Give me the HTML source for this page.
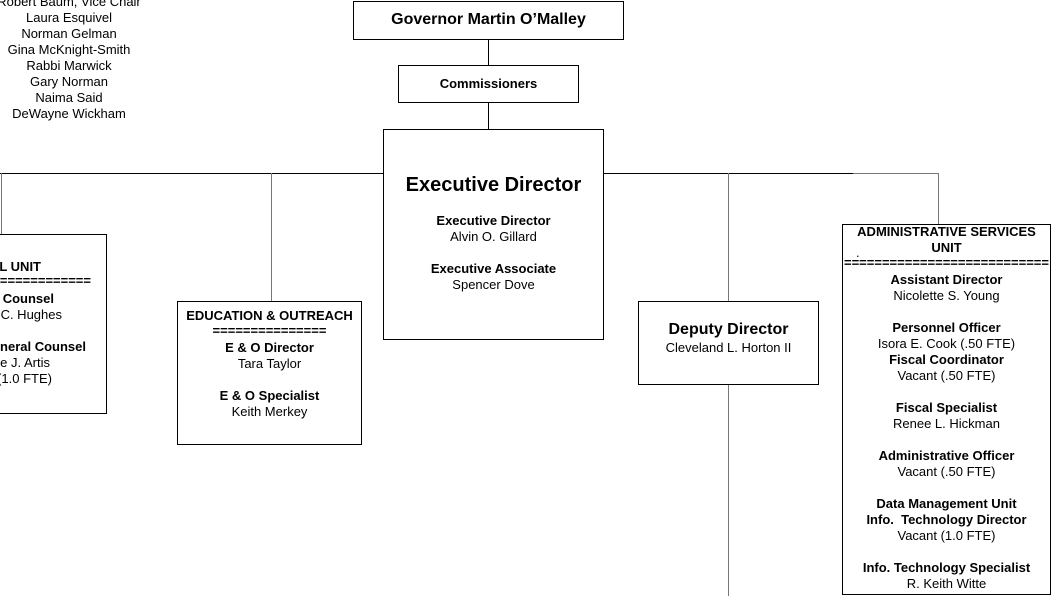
<!DOCTYPE html>
<html><head><meta charset="utf-8"><style>
body{margin:0;width:1053px;height:596px;position:relative;overflow:hidden;background:#fff;font-family:"Liberation Sans",Arial,sans-serif;color:#000}
.b{position:absolute;border:1px solid #000;box-sizing:border-box;background:#fff}
.l{position:absolute;background:#000}
.g{position:absolute;background:#777}
.t{position:absolute;text-align:center;font-size:13px;line-height:16px;white-space:nowrap}
.r{position:absolute;text-align:right;font-size:13px;line-height:16px;white-space:nowrap}
.bd{font-weight:bold}
</style></head><body>
<div class="l" style="left:0;top:173px;width:853px;height:1px"></div>
<div class="g" style="left:853px;top:173px;width:86px;height:1px"></div>
<div class="g" style="left:938px;top:173px;width:1px;height:52px"></div>
<div class="l" style="left:488px;top:38px;width:1px;height:92px"></div>
<div class="g" style="left:1px;top:173px;width:1px;height:62px"></div>
<div class="g" style="left:271px;top:173px;width:1px;height:129px"></div>
<div class="g" style="left:728px;top:173px;width:1px;height:423px"></div>

<div class="t" style="left:-31px;width:200px;top:-6px">Robert Baum, Vice Chair</div>
<div class="t" style="left:-31px;width:200px;top:10px">Laura Esquivel</div>
<div class="t" style="left:-31px;width:200px;top:26px">Norman Gelman</div>
<div class="t" style="left:-31px;width:200px;top:42px">Gina McKnight-Smith</div>
<div class="t" style="left:-31px;width:200px;top:58px">Rabbi Marwick</div>
<div class="t" style="left:-31px;width:200px;top:74px">Gary Norman</div>
<div class="t" style="left:-31px;width:200px;top:90px">Naima Said</div>
<div class="t" style="left:-31px;width:200px;top:106px">DeWayne Wickham</div>

<div class="b" style="left:353px;top:1px;width:271px;height:39px"></div>
<div class="t bd" style="left:353px;width:271px;top:11px;font-size:16px;line-height:18px">Governor Martin O’Malley</div>
<div class="b" style="left:398px;top:65px;width:181px;height:38px"></div>
<div class="t bd" style="left:398px;width:181px;top:76px">Commissioners</div>
<div class="b" style="left:383px;top:129px;width:221px;height:211px"></div>
<div class="t bd" style="left:383px;width:221px;top:173px;font-size:20px;line-height:24px">Executive Director</div>
<div class="t bd" style="left:383px;width:221px;top:213px">Executive Director</div>
<div class="t" style="left:383px;width:221px;top:229px">Alvin O. Gillard</div>
<div class="t bd" style="left:383px;width:221px;top:261px">Executive Associate</div>
<div class="t" style="left:383px;width:221px;top:277px">Spencer Dove</div>

<div class="b" style="left:-60px;top:234px;width:167px;height:180px"></div>
<div class="r bd" style="left:-200px;width:241px;top:259px">LEGAL UNIT</div>
<div class="r bd" style="left:-200px;width:291px;top:276px;line-height:10px">====================</div>
<div class="r bd" style="left:-200px;width:254px;top:291px">General Counsel</div>
<div class="r" style="left:-200px;width:262px;top:307px">Kathleen C. Hughes</div>
<div class="r bd" style="left:-200px;width:286px;top:339px">Deputy General Counsel</div>
<div class="r" style="left:-200px;width:250px;top:355px">Vacant e J. Artis</div>
<div class="r" style="left:-200px;width:252px;top:371px">Vacant (1.0 FTE)</div>

<div class="b" style="left:177px;top:301px;width:185px;height:144px"></div>
<div class="t bd" style="left:177px;width:185px;top:308px">EDUCATION &amp; OUTREACH</div>
<div class="t bd" style="left:177px;width:185px;top:326px;line-height:10px">===============</div>
<div class="t bd" style="left:177px;width:185px;top:340px">E &amp; O Director</div>
<div class="t" style="left:177px;width:185px;top:356px">Tara Taylor</div>
<div class="t bd" style="left:177px;width:185px;top:388px">E &amp; O Specialist</div>
<div class="t" style="left:177px;width:185px;top:404px">Keith Merkey</div>

<div class="b" style="left:638px;top:301px;width:181px;height:84px"></div>
<div class="t bd" style="left:638px;width:181px;top:321px;font-size:16px;line-height:18px">Deputy Director</div>
<div class="t" style="left:638px;width:181px;top:340px">Cleveland L. Horton II</div>

<div class="b" style="left:842px;top:224px;width:209px;height:371px"></div>
<div class="t bd" style="left:842px;width:209px;top:224px">ADMINISTRATIVE SERVICES</div>
<div class="t bd" style="left:842px;width:209px;top:240px">UNIT</div>
<div class="t" style="left:856px;top:245px">.</div>
<div class="t bd" style="left:842px;width:209px;top:258px;line-height:10px;overflow:hidden">===========================</div>
<div class="t bd" style="left:842px;width:209px;top:272px">Assistant Director</div>
<div class="t" style="left:842px;width:209px;top:288px">Nicolette S. Young</div>
<div class="t bd" style="left:842px;width:209px;top:320px">Personnel Officer</div>
<div class="t" style="left:842px;width:209px;top:336px">Isora E. Cook (.50 FTE)</div>
<div class="t bd" style="left:842px;width:209px;top:352px">Fiscal Coordinator</div>
<div class="t" style="left:842px;width:209px;top:368px">Vacant (.50 FTE)</div>
<div class="t bd" style="left:842px;width:209px;top:400px">Fiscal Specialist</div>
<div class="t" style="left:842px;width:209px;top:416px">Renee L. Hickman</div>
<div class="t bd" style="left:842px;width:209px;top:448px">Administrative Officer</div>
<div class="t" style="left:842px;width:209px;top:464px">Vacant (.50 FTE)</div>
<div class="t bd" style="left:842px;width:209px;top:496px">Data Management Unit</div>
<div class="t bd" style="left:842px;width:209px;top:512px">Info.&nbsp; Technology Director</div>
<div class="t" style="left:842px;width:209px;top:528px">Vacant (1.0 FTE)</div>
<div class="t bd" style="left:842px;width:209px;top:560px">Info. Technology Specialist</div>
<div class="t" style="left:842px;width:209px;top:576px">R. Keith Witte</div>
</body></html>
